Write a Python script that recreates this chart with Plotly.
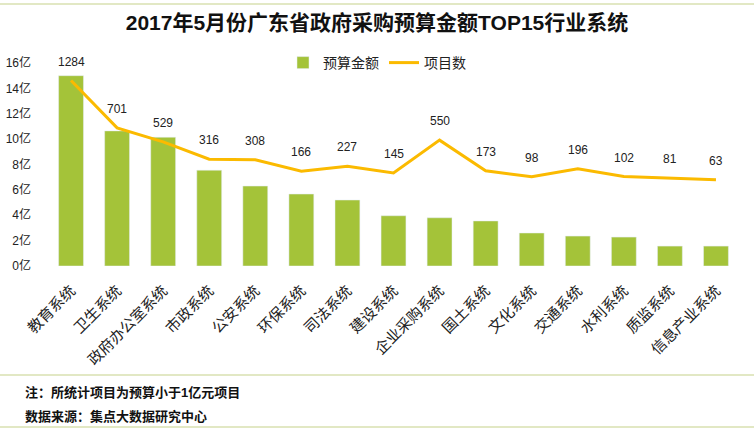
import plotly.graph_objects as go

# 数据
categories = ["教育系统", "卫生系统", "政府办公室系统", "市政系统", "公安系统",
              "环保系统", "司法系统", "建设系统", "企业采购系统", "国土系统",
              "文化系统", "交通系统", "水利系统", "质监系统", "信息产业系统"]
budget = [15.0, 10.65, 10.15, 7.55, 6.3, 5.67, 5.2, 3.96, 3.8, 3.55,
          2.6, 2.36, 2.28, 1.57, 1.57]          # 亿元
projects = [1284, 701, 529, 316, 308, 166, 227, 145, 550, 173,
            98, 196, 102, 81, 63]
y_ticks = [0, 2, 4, 6, 8, 10, 12, 14, 16]
y_ticktext = [f"{v}亿" for v in y_ticks]
notes = ["<b>注：所统计项目为预算小于1亿元项目</b>",
         "<b>数据来源：集点大数据研究中心</b>"]

GREEN = "#A4C339"
GOLD = "#FBBA00"
FONT = "Liberation Sans, Noto Sans CJK SC, sans-serif"

# 像素坐标转 paper 坐标
L, R, T, B, W, H = 48, 15, 63, 170, 754, 436
def px_x(x):
    return (x - L) / (W - L - R)
def px_y(y):
    return (H - B - y) / (H - T - B)

fig = go.Figure()
fig.add_trace(go.Bar(x=categories, y=budget, name="预算金额",
                     marker_color=GREEN))
fig.add_trace(go.Scatter(x=categories, y=projects, name="项目数", yaxis="y2",
                         mode="lines", line=dict(color=GOLD, width=3)))

# 项目数标签
for c, p in zip(categories, projects):
    fig.add_annotation(x=c, y=p, yref="y2", text=str(p), showarrow=False,
                       yshift=19, font=dict(size=12, color="#222222", family=FONT))

# 页脚
for txt, ly in zip(notes, [392, 416]):
    fig.add_annotation(x=px_x(23), y=px_y(ly), xref="paper", yref="paper", text=txt,
                       showarrow=False, xanchor="left", yanchor="middle",
                       font=dict(size=13, color="#111111", family=FONT))

for ly in [4, 375, 427]:
    fig.add_shape(type="line", xref="paper", yref="paper",
                  x0=px_x(0), x1=px_x(W), y0=px_y(ly), y1=px_y(ly),
                  line=dict(color="#D9E0B0", width=1.5))

fig.update_layout(
    width=W, height=H,
    margin=dict(l=L, r=R, t=T, b=B),
    paper_bgcolor="white", plot_bgcolor="white",
    font=dict(family=FONT, size=12, color="#222222"),
    title=dict(text="<b>2017年5月份广东省政府采购预算金额TOP15行业系统</b>",
               x=0.5, xanchor="center", y=1 - 23 / H, yanchor="middle",
               font=dict(size=21, color="#111111", family=FONT)),
    bargap=0.46,
    showlegend=True,
    legend=dict(orientation="h", x=px_x(283), xanchor="left", y=1.0, yanchor="middle",
                font=dict(size=14), bgcolor="rgba(0,0,0,0)", itemwidth=30),
    xaxis=dict(tickangle=-45, tickfont=dict(size=15), showline=False, automargin=False,
               range=[-0.5, 14.5], showgrid=False, ticklabelstandoff=12),
    yaxis=dict(range=[0, 16], tickvals=y_ticks, ticktext=y_ticktext, automargin=False,
               showgrid=False, zeroline=False, showline=False,
               tickfont=dict(size=12), ticklabelstandoff=16),
    yaxis2=dict(range=[-1000, 1500], overlaying="y", visible=False),
)

fig.write_html("out.html", config={"displayModeBar": False},
               post_script="document.body.style.margin='0';")
